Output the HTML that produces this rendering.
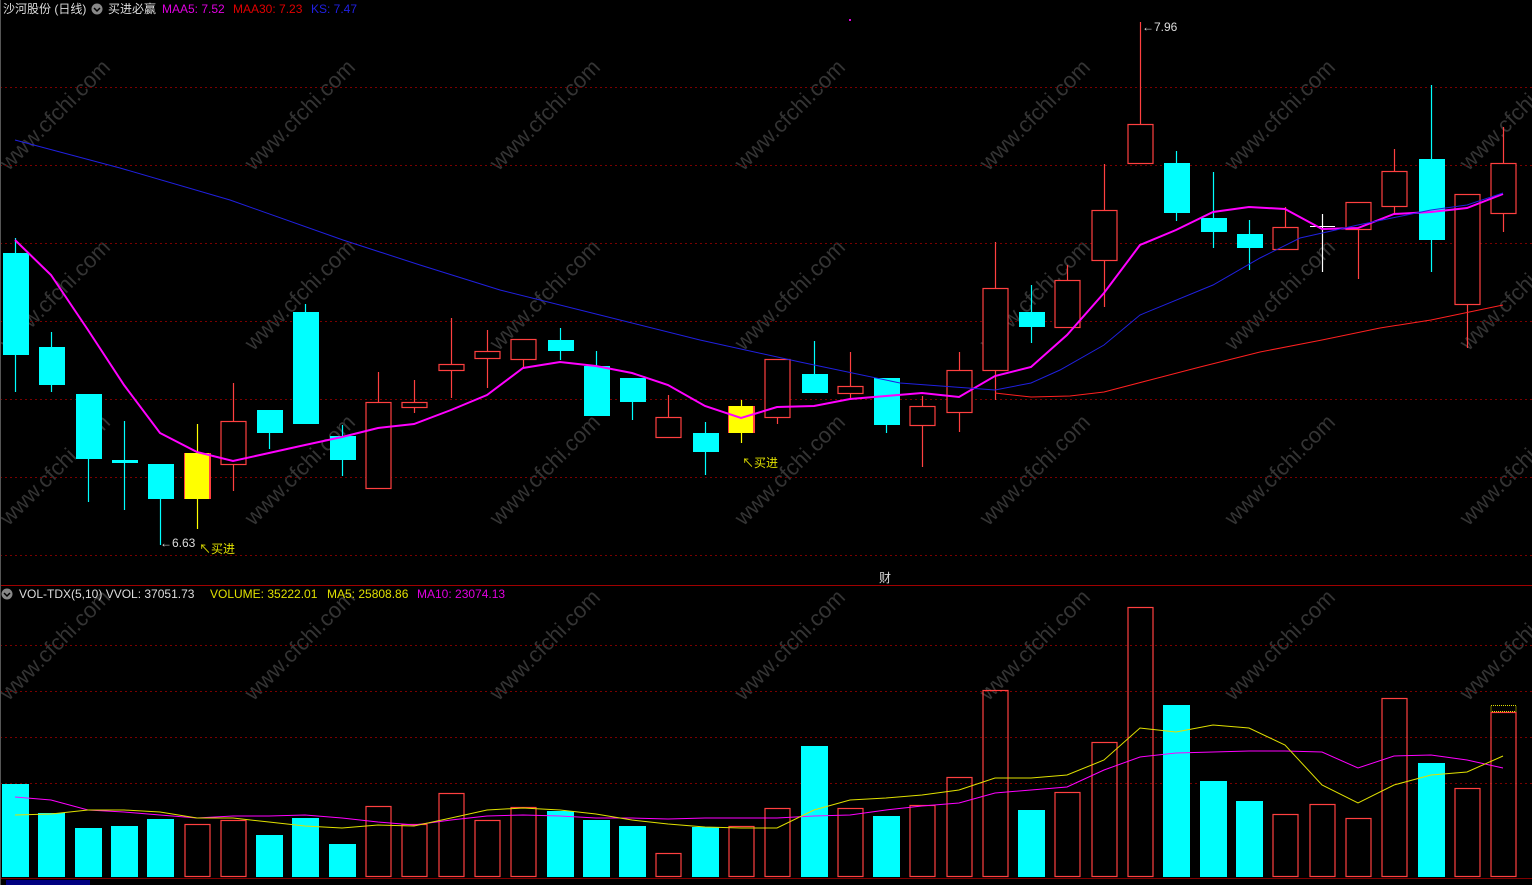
<!DOCTYPE html>
<html><head><meta charset="utf-8">
<style>
html,body{margin:0;padding:0;background:#000;width:1532px;height:885px;overflow:hidden}
svg{display:block}
text{font-family:"Liberation Sans","Noto Sans CJK SC",sans-serif;font-size:12px}
</style></head>
<body>
<svg id="s" width="1532" height="885" xmlns="http://www.w3.org/2000/svg">
<g id="wm" fill="#3a3a3a" font-size="22" opacity="0.9"></g>
<g id="grid"></g>
<g id="c"></g>
<line x1="0" y1="585.5" x2="1532" y2="585.5" stroke="#a00000" stroke-width="1"/>
<line x1="0" y1="878.5" x2="1532" y2="878.5" stroke="#800000" stroke-width="1"/>
<line x1="0.5" y1="0" x2="0.5" y2="885" stroke="#555" stroke-width="1"/>
<rect x="6" y="880" width="84" height="5" fill="#000080"/>
<text x="3" y="13" fill="#ddd">沙河股份 (日线)</text>
<circle cx="97" cy="9" r="5.5" fill="#888"/><path d="M94 8 L97 11 L100 8" stroke="#000" stroke-width="1.5" fill="none"/>
<text x="108" y="13" fill="#ddd">买进必赢</text>
<text x="162" y="13" fill="#e000e0">MAA5: 7.52</text>
<text x="233" y="13" fill="#e00000">MAA30: 7.23</text>
<text x="311" y="13" fill="#2020e0">KS: 7.47</text>
<circle cx="7" cy="594" r="5.5" fill="#888"/><path d="M4 593 L7 596 L10 593" stroke="#000" stroke-width="1.5" fill="none"/>
<text x="19" y="598" fill="#ddd">VOL-TDX(5,10) VVOL: 37051.73</text>
<text x="210" y="598" fill="#e0e000">VOLUME: 35222.01</text>
<text x="327" y="598" fill="#e0e000">MA5: 25808.86</text>
<text x="417" y="598" fill="#e000e0">MA10: 23074.13</text>
<text x="160" y="547" fill="#ddd">←6.63</text>
<text x="199" y="553" fill="#e0e000">↖买进</text>
<text x="742" y="467" fill="#e0e000">↖买进</text>
<text x="1142" y="31" fill="#ddd">←7.96</text>
<text x="879" y="582" fill="#ddd">财</text>
<rect x="849" y="19" width="2" height="2" fill="#e000e0"/>
</svg>
<script>
var NS="http://www.w3.org/2000/svg",c=document.getElementById('c'),g=document.getElementById('grid'),wm=document.getElementById('wm');
function el(p,t,a){var e=document.createElementNS(NS,t);for(var k in a)e.setAttribute(k,a[k]);p.appendChild(e);return e;}
[87,165,243,321,399,477,555,645,691,737,783].forEach(function(y){el(g,'line',{x1:0,x2:1532,y1:y+.5,y2:y+.5,stroke:'#7a0000','stroke-dasharray':'2,3'});});
[60,305,550,795,1040,1285,1520].forEach(function(x){[120,300,475,650].forEach(function(y){var t=el(wm,'text',{x:x,y:y,transform:'rotate(-45 '+x+' '+y+')','text-anchor':'middle'});t.textContent='www.cfchi.com';t.setAttribute('style','font-size:22px');});});
var K=[[15,253,355,238,392,'c'],[51,347,385,332,392,'c'],[88,394,459,394,502,'c'],[124,460,463,421,510,'c'],[160,464,499,499,545,'c'],[197,453,499,424,529,'y'],[233,421,464,383,491,'r'],[269,410,433,433,449,'c'],[305,312,424,304,424,'c'],[342,436,460,425,476,'c'],[378,402,488,372,488,'r'],[414,402,407,380,413,'r'],[451,364,370,318,398,'r'],[487,351,358,330,388,'r'],[523,339,359,339,367,'r'],[560,340,351,328,360,'c'],[596,366,416,351,416,'c'],[632,378,402,378,420,'c'],[668,417,437,395,437,'r'],[705,433,452,422,475,'c'],[741,406,433,400,443,'y'],[777,359,417,359,424,'r'],[814,374,393,341,393,'c'],[850,386,393,352,400,'r'],[886,378,425,378,433,'c'],[922,406,425,396,467,'r'],[959,370,412,352,432,'r'],[995,288,370,242,400,'r'],[1031,312,327,285,343,'c'],[1067,280,327,265,327,'r'],[1104,210,260,164,307,'r'],[1140,124,163,22,163,'r'],[1176,163,213,151,221,'c'],[1213,218,232,172,248,'c'],[1249,234,248,220,270,'c'],[1285,227,249,207,249,'r'],[1322,226,227,214,272,'w'],[1358,202,229,202,279,'r'],[1394,171,206,149,214,'r'],[1431,159,240,85,272,'c'],[1467,194,304,194,348,'r'],[1503,163,213,127,232,'r']];
var col={c:'#00ffff',r:'#ff4040',y:'#ffff00',w:'#ffffff'};
K.forEach(function(k){var x=k[0],cl=col[k[5]];
 el(c,'line',{x1:x+.5,x2:x+.5,y1:k[3],y2:k[4],stroke:cl,'stroke-width':1.2});
 if(k[5]=='w'){el(c,'line',{x1:x-12,x2:x+13,y1:k[1]+.5,y2:k[1]+.5,stroke:cl});return;}
 if(k[5]=='r'){el(c,'rect',{x:x-12,y:k[1]+.5,width:25,height:k[2]-k[1],fill:'#000',stroke:cl,'stroke-width':1.2});}
 else{if(k[5]=='y')el(c,'rect',{x:x-13,y:k[1],width:27,height:k[2]-k[1],fill:'#ff4040'});el(c,'rect',{x:x-12,y:k[1],width:k[5]=='y'?24:26,height:k[2]-k[1],fill:cl});}
});
var V=[[784,'c'],[813,'c'],[828,'c'],[826,'c'],[819,'c'],[824,'r'],[820,'r'],[835,'c'],[818,'c'],[844,'c'],[806,'r'],[824,'r'],[793,'r'],[820,'r'],[807,'r'],[811,'c'],[820,'c'],[826,'c'],[853,'r'],[827,'c'],[826,'r'],[808,'r'],[746,'c'],[808,'r'],[816,'c'],[805,'r'],[777,'r'],[690,'r'],[810,'c'],[792,'r'],[742,'r'],[607,'r'],[705,'c'],[781,'c'],[801,'c'],[814,'r'],[804,'r'],[818,'r'],[698,'r'],[763,'c'],[788,'r'],[712,'r']];
V.forEach(function(v,i){var x=K[i][0];if(v[1]=='c')el(c,'rect',{x:x-13,y:v[0],width:27,height:877-v[0],fill:'#00ffff'});else el(c,'rect',{x:x-12,y:v[0]+.5,width:25,height:876-v[0],fill:'none',stroke:'#ff4040','stroke-width':1.2});});
el(c,'rect',{x:1491,y:705.5,width:25,height:6,fill:'none',stroke:'#e0e000','stroke-dasharray':'1,1'});
function pl(pts,cl,w){el(c,'polyline',{points:pts.map(function(p){return p.join(',')}).join(' '),fill:'none',stroke:cl,'stroke-width':w});}
var m5=[240,275,330,385,433,452,461,453,445,437,428,424,410,395,368,362,366,373,385,406,418,407,406,399,396,393,397,376,367,335,293,245,230,212,207,209,229,228,214,212,208,194];
pl(m5.map(function(y,i){return [K[i][0],y]}),'#ff00ff',2);
pl([[15,140],[120,168],[230,200],[343,240],[420,265],[500,290],[600,315],[700,340],[800,362],[900,383],[995,390],[1031,383],[1060,370],[1104,345],[1140,315],[1213,285],[1260,258],[1300,238],[1358,225],[1431,210],[1467,205],[1503,193]],'#2020e0',1);
pl([[995,393],[1031,397],[1070,396],[1104,392],[1150,380],[1200,367],[1260,352],[1322,340],[1380,328],[1431,320],[1503,305]],'#ff2020',1);
var ma5=[815,814,810,810,812,818,818,822,826,828,825,826,818,810,808,810,814,820,824,827,828,828,810,800,798,795,790,778,778,775,760,728,732,725,728,745,785,803,785,775,772,756];
var ma10=[797,800,810,812,815,818,816,816,815,818,822,825,820,816,815,816,818,818,819,818,818,818,816,815,810,806,803,793,790,787,770,757,753,752,751,751,752,768,756,755,760,768];
pl(ma10.map(function(y,i){return [K[i][0],y]}),'#ff00ff',1);
pl(ma5.map(function(y,i){return [K[i][0],y]}),'#e0e000',1);
</script>
</body></html>
